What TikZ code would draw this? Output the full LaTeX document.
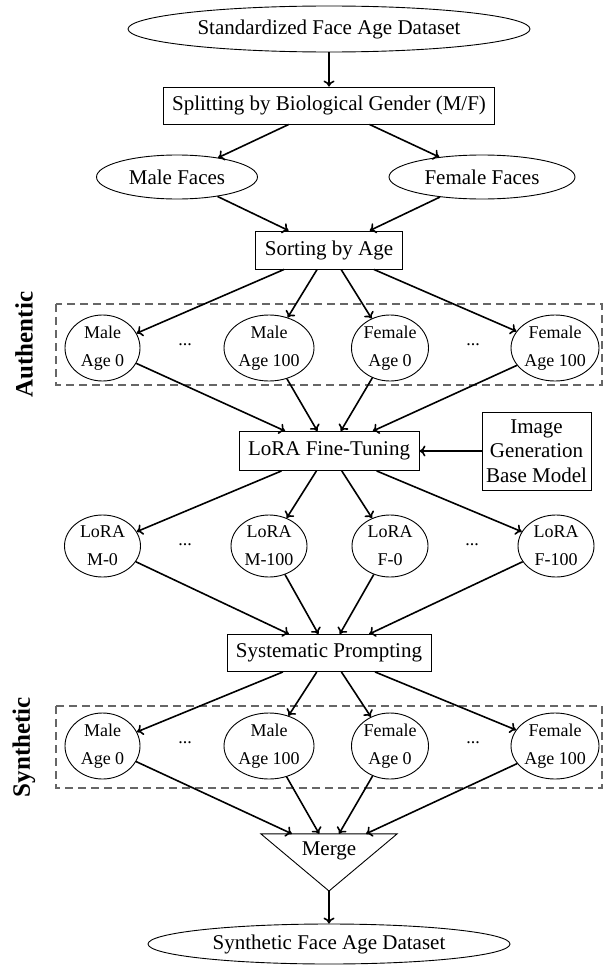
\documentclass[tikz,border=0pt]{standalone}
\usepackage{fontspec}
\setmainfont{Liberation Serif}
\usetikzlibrary{shapes.geometric,arrows.meta}
\newcommand{\dgMain}{\fontsize{21}{25}\selectfont}
\newcommand{\dgRow}{\fontsize{18}{28}\selectfont}
\newcommand{\dgImg}{\fontsize{21}{24.5}\selectfont}
\newcommand{\dgSide}{\fontsize{25}{30}\selectfont\bfseries}
\begin{document}
\begin{tikzpicture}[x=1pt,y=-1pt,
  oval/.style={ellipse, draw, line width=0.9pt, inner sep=0pt, font=\dgMain},
  rowoval/.style={ellipse, draw, line width=0.9pt, inner sep=0pt, font=\dgRow, align=center, minimum height=66pt},
  loraoval/.style={ellipse, draw, line width=0.9pt, inner sep=0pt, font=\dgRow, align=center, minimum height=62pt, minimum width=76pt},
  procbox/.style={rectangle, draw, line width=0.9pt, inner xsep=9pt, inner ysep=0pt, minimum height=38pt, font=\dgMain},
  arr/.style={-{To[length=6pt,width=11pt]}, line width=1.6pt},
  grp/.style={draw=black!60, dash pattern=on 8pt off 5pt, line width=1.3pt},
  side/.style={font=\dgSide, rotate=90},
  dotsnode/.style={font=\dgRow, inner sep=0pt}
]
\useasboundingbox (0,0) rectangle (608,966);

% groups
\draw[grp] (56,304) rectangle (602,385);
\draw[grp] (56,706) rectangle (602,788);
\node[side] (lauth) at (24,344.5) {Authentic};
\node[side] (lsyn) at (24,747) {Synthetic};

% top
\node[oval, minimum width=402pt, minimum height=46pt] (top) at (329,29) {Standardized Face Age Dataset};
\node[procbox, minimum height=37pt] (split) at (329,105.5) {Splitting by Biological Gender (M/F)};
\node[oval, minimum width=161pt, minimum height=44pt] (mf) at (177,177) {Male Faces};
\node[oval, minimum width=186pt, minimum height=44pt] (ff) at (482,177) {Female Faces};
\node[procbox] (sort) at (329,250) {Sorting by Age};

% authentic row
\node[rowoval, minimum width=75pt] (am0) at (102.5,348) {Male\\Age 0};
\node[rowoval, minimum width=90pt] (am100) at (269,348) {Male\\Age 100};
\node[rowoval, minimum width=77pt] (af0) at (390,348) {Female\\Age 0};
\node[rowoval, minimum width=88pt] (af100) at (555,348) {Female\\Age 100};
\node[dotsnode] (ad1) at (185,345) {...};
\node[dotsnode] (ad2) at (473,345) {...};

% lora
\node[procbox, minimum height=39pt] (lora) at (329,451) {LoRA Fine-Tuning};
\node[rectangle, draw, line width=0.9pt, font=\dgImg, align=center, inner xsep=4pt, inner ysep=0pt, minimum width=109pt, minimum height=78pt] (img) at (536.5,451) {Image\\Generation\\Base Model};

\node[loraoval] (lm0) at (102.5,546) {LoRA\\M-0};
\node[loraoval] (lm100) at (269,546) {LoRA\\M-100};
\node[loraoval] (lf0) at (390,546) {LoRA\\F-0};
\node[loraoval] (lf100) at (556,546) {LoRA\\F-100};
\node[dotsnode] (ld1) at (185,545) {...};
\node[dotsnode] (ld2) at (472,545) {...};

% prompting
\node[procbox, minimum height=37pt] (sys) at (329,653) {Systematic Prompting};

% synthetic row
\node[rowoval, minimum width=75pt] (sm0) at (102.5,746) {Male\\Age 0};
\node[rowoval, minimum width=90pt] (sm100) at (269,746) {Male\\Age 100};
\node[rowoval, minimum width=77pt] (sf0) at (390,746) {Female\\Age 0};
\node[rowoval, minimum width=88pt] (sf100) at (555,746) {Female\\Age 100};
\node[dotsnode] (sd1) at (185,743) {...};
\node[dotsnode] (sd2) at (473,743) {...};

% merge
\node[rectangle, inner sep=0pt, minimum width=136pt, minimum height=34pt, font=\dgMain] (merge) at (329,851) {Merge};
\coordinate (apex) at (329,891);
\draw[line width=0.9pt, line join=miter] (merge.north west) -- (merge.north east) -- (apex) -- cycle;

\node[oval, minimum width=362pt, minimum height=40pt] (final) at (329,944) {Synthetic Face Age Dataset};

% connectors
\draw[arr] (top) -- (split);
\draw[arr] (split) -- (mf);
\draw[arr] (split) -- (ff);
\draw[arr] (mf) -- (sort);
\draw[arr] (ff) -- (sort);
\foreach \n in {am0,am100,af0,af100} {
  \draw[arr] (sort) -- (\n);
  \draw[arr] (\n) -- (lora);
}
\draw[arr] (img) -- (lora);
\foreach \n in {lm0,lm100,lf0,lf100} {
  \draw[arr] (lora) -- (\n);
  \draw[arr] (\n) -- (sys);
}
\foreach \n in {sm0,sm100,sf0,sf100} {
  \draw[arr] (sys) -- (\n);
  \draw[arr] (\n) -- (merge);
}
\draw[arr] (apex) -- (final);
\end{tikzpicture}
\end{document}
